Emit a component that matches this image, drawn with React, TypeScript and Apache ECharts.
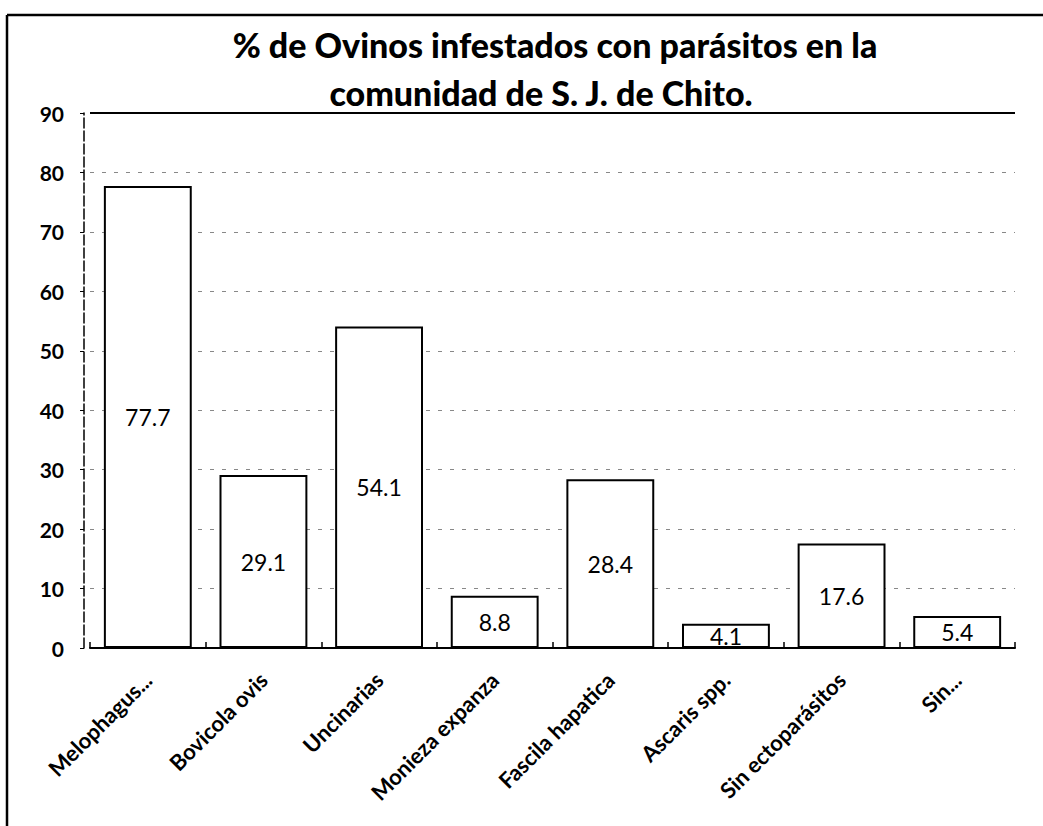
import React, { useEffect, useRef } from "react";
import * as echarts from "echarts";

const categories = [
  "Melophagus...",
  "Bovicola ovis",
  "Uncinarias",
  "Monieza expanza",
  "Fascila hapatica",
  "Ascaris spp.",
  "Sin ectoparásitos",
  "Sin...",
];
const values = [77.7, 29.1, 54.1, 8.8, 28.4, 4.1, 17.6, 5.4];
const titleLine1 = "% de Ovinos infestados con parásitos en la";
const titleLine2 = "comunidad de S. J. de Chito.";

const FONT = "Lato, 'Open Sans', sans-serif";

export default function App() {
  const ref = useRef<HTMLDivElement>(null);
  useEffect(() => {
    if (!ref.current) return;
    const chart = echarts.init(ref.current, null, { renderer: "svg" });
    chart.setOption({
      animation: false,
      backgroundColor: "#ffffff",
      title: [
        {
          text: titleLine1,
          left: 550,
          top: 22,
          textAlign: "center",
          textStyle: { fontFamily: FONT, fontWeight: 900, fontSize: 34, color: "#000" },
        },
        {
          text: titleLine2,
          left: 536,
          top: 70,
          textAlign: "center",
          textStyle: { fontFamily: FONT, fontWeight: 900, fontSize: 34, color: "#000" },
        },
      ],
      graphic: [
        { type: "line", shape: { x1: 7, y1: 15, x2: 1043, y2: 15 }, style: { stroke: "#000", lineWidth: 2.5 } },
        { type: "line", shape: { x1: 7, y1: 15, x2: 7, y2: 826 }, style: { stroke: "#000", lineWidth: 2.5 } },
      ],
      grid: { left: 90, right: 28, top: 113, bottom: 178, containLabel: false },
      xAxis: {
        type: "category",
        data: categories,
        axisLine: { show: true, lineStyle: { color: "#000", width: 2 } },
        axisTick: { show: true, inside: true, length: 6, lineStyle: { color: "#000", width: 1.5 } },
        axisLabel: {
          rotate: 45,
          interval: 0,
          fontFamily: FONT,
          fontWeight: "bold",
          fontSize: 22,
          color: "#000",
          margin: 28,
        },
      },
      yAxis: {
        type: "value",
        min: 0,
        max: 90,
        interval: 10,
        offset: 6,
        axisLine: { show: true, lineStyle: { color: "#000", width: 1.5, type: [10, 3] } },
        axisTick: { show: true, length: 4, lineStyle: { color: "#000" } },
        axisLabel: {
          fontFamily: FONT,
          fontWeight: "bold",
          fontSize: 21,
          color: "#000",
          margin: 20,
        },
        splitLine: { show: true, lineStyle: { color: "#888", width: 1, type: [4, 8] } },
      },
      series: [
        {
          type: "bar",
          data: values,
          barWidth: "76%",
          itemStyle: { color: "#ffffff", borderColor: "#000", borderWidth: 2 },
          label: {
            show: true,
            position: "inside",
            fontFamily: FONT,
            fontSize: 23,
            color: "#000",
          },
          markLine: {
            silent: true,
            symbol: "none",
            label: { show: false },
            lineStyle: { color: "#000", type: "solid", width: 2 },
            data: [{ yAxis: 90 }],
          },
        },
      ],
    });
    return () => chart.dispose();
  }, []);
  return (
    <div
      ref={ref}
      style={{ position: "absolute", left: 0, top: 0, width: 1043, height: 826 }}
    />
  );
}
